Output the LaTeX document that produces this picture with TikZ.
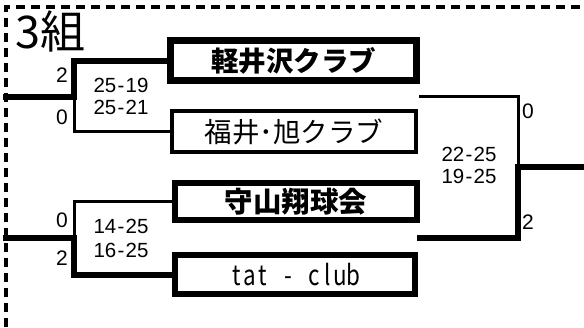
\documentclass[tikz,border=0pt]{standalone}
\usepackage{fontspec}
\setmainfont{Liberation Sans}
\newfontfamily\jp{Noto Sans CJK JP}
\tikzset{
  thickline/.style={line width=6pt, line join=miter, line cap=rect},
  thinline/.style={line width=3pt, line join=miter, line cap=rect},
  teambox/.style={draw, rectangle, inner sep=0pt, font=\jp\fontsize{27.5}{27.5}\selectfont},
  boldteam/.style={teambox, line width=6.5pt, font=\jp\bfseries\fontsize{27.5}{27.5}\selectfont},
  plainteam/.style={teambox, line width=4pt},
  score/.style={inner sep=0pt, font=\fontsize{20.5}{20.5}\selectfont},
  setcount/.style={inner sep=0pt, font=\fontsize{21}{21}\selectfont},
  border/.style={line width=3.2pt, dash pattern=on 9pt off 6pt}
}
\newcommand{\mono}[1]{\makebox[13pt]{\scalebox{0.8}[1]{#1}}}
\newcommand{\hy}{\kern1.2pt-\kern1.2pt}
\begin{document}
\begin{tikzpicture}[x=1pt, y=-1pt]
\useasboundingbox (0,0) rectangle (584,327);
\fill[white] (0,0) rectangle (584,327);
% border
\coordinate (bl) at (6,327);
\coordinate (tl) at (6,7);
\coordinate (tr) at (584,7);
\draw[border] (bl) -- (tl) -- (tr);
% title
\node[inner sep=0pt, font=\jp\fontsize{45}{45}\selectfont, anchor=west] (title) at (15,31) {3組};
% teams
\node[boldteam, minimum width=246pt, minimum height=40pt] (t1) at (293.5,60.5) {軽井沢クラブ};
\node[plainteam, minimum width=244pt, minimum height=41pt] (t2) at (294,131.5) {福井･旭クラブ};
\node[boldteam, minimum width=242pt, minimum height=37pt, font=\jp\bfseries\fontsize{28.5}{28.5}\selectfont] (t3) at (296,201.5) {守山翔球会};
\node[teambox, line width=6pt, minimum width=240pt, minimum height=39pt, font=\jp\fontsize{28}{28}\selectfont] (t4) at (295,274.5) {\mono{t}\mono{a}\mono{t}\mono{ }\mono{-}\mono{ }\mono{c}\mono{l}\mono{u}\mono{b}};
% bracket junctions
\coordinate (j1) at (74,97);
\coordinate (o1) at (6,97);
\coordinate (j2) at (74,238);
\coordinate (o2) at (6,238);
\coordinate (f1) at (420,96);
\coordinate (f2) at (420,238);
\coordinate (fj) at (518,167);
\coordinate (fo) at (584,167);
% round 1 upper
\draw[thinline] (t2.west) -| (j1);
\draw[thickline] (t1.west) -| (j1);
\draw[thickline] (j1) -- (o1);
% round 1 lower
\draw[thinline] (t3.west) -| (j2);
\draw[thickline] (t4.west) -| (j2);
\draw[thickline] (j2) -- (o2);
% final
\draw[thinline] (f1) -| (fj);
\draw[thickline] (f2) -| (fj);
\draw[thickline] (fj) -- (fo);
% set counts
\node[setcount] (c1) at (62,75) {2};
\node[setcount] (c2) at (62,117) {0};
\node[setcount] (c3) at (62,220) {0};
\node[setcount] (c4) at (62,258) {2};
\node[setcount] (c5) at (528,111.5) {0};
\node[setcount] (c6) at (528,222.5) {2};
% scores
\node[score] (s1) at (121,85) {25\hy19};
\node[score] (s2) at (121,107) {25\hy21};
\node[score] (s3) at (121,226) {14\hy25};
\node[score] (s4) at (121,250) {16\hy25};
\node[score] (s5) at (469,154.5) {22\hy25};
\node[score] (s6) at (469,176) {19\hy25};
\end{tikzpicture}
\end{document}
